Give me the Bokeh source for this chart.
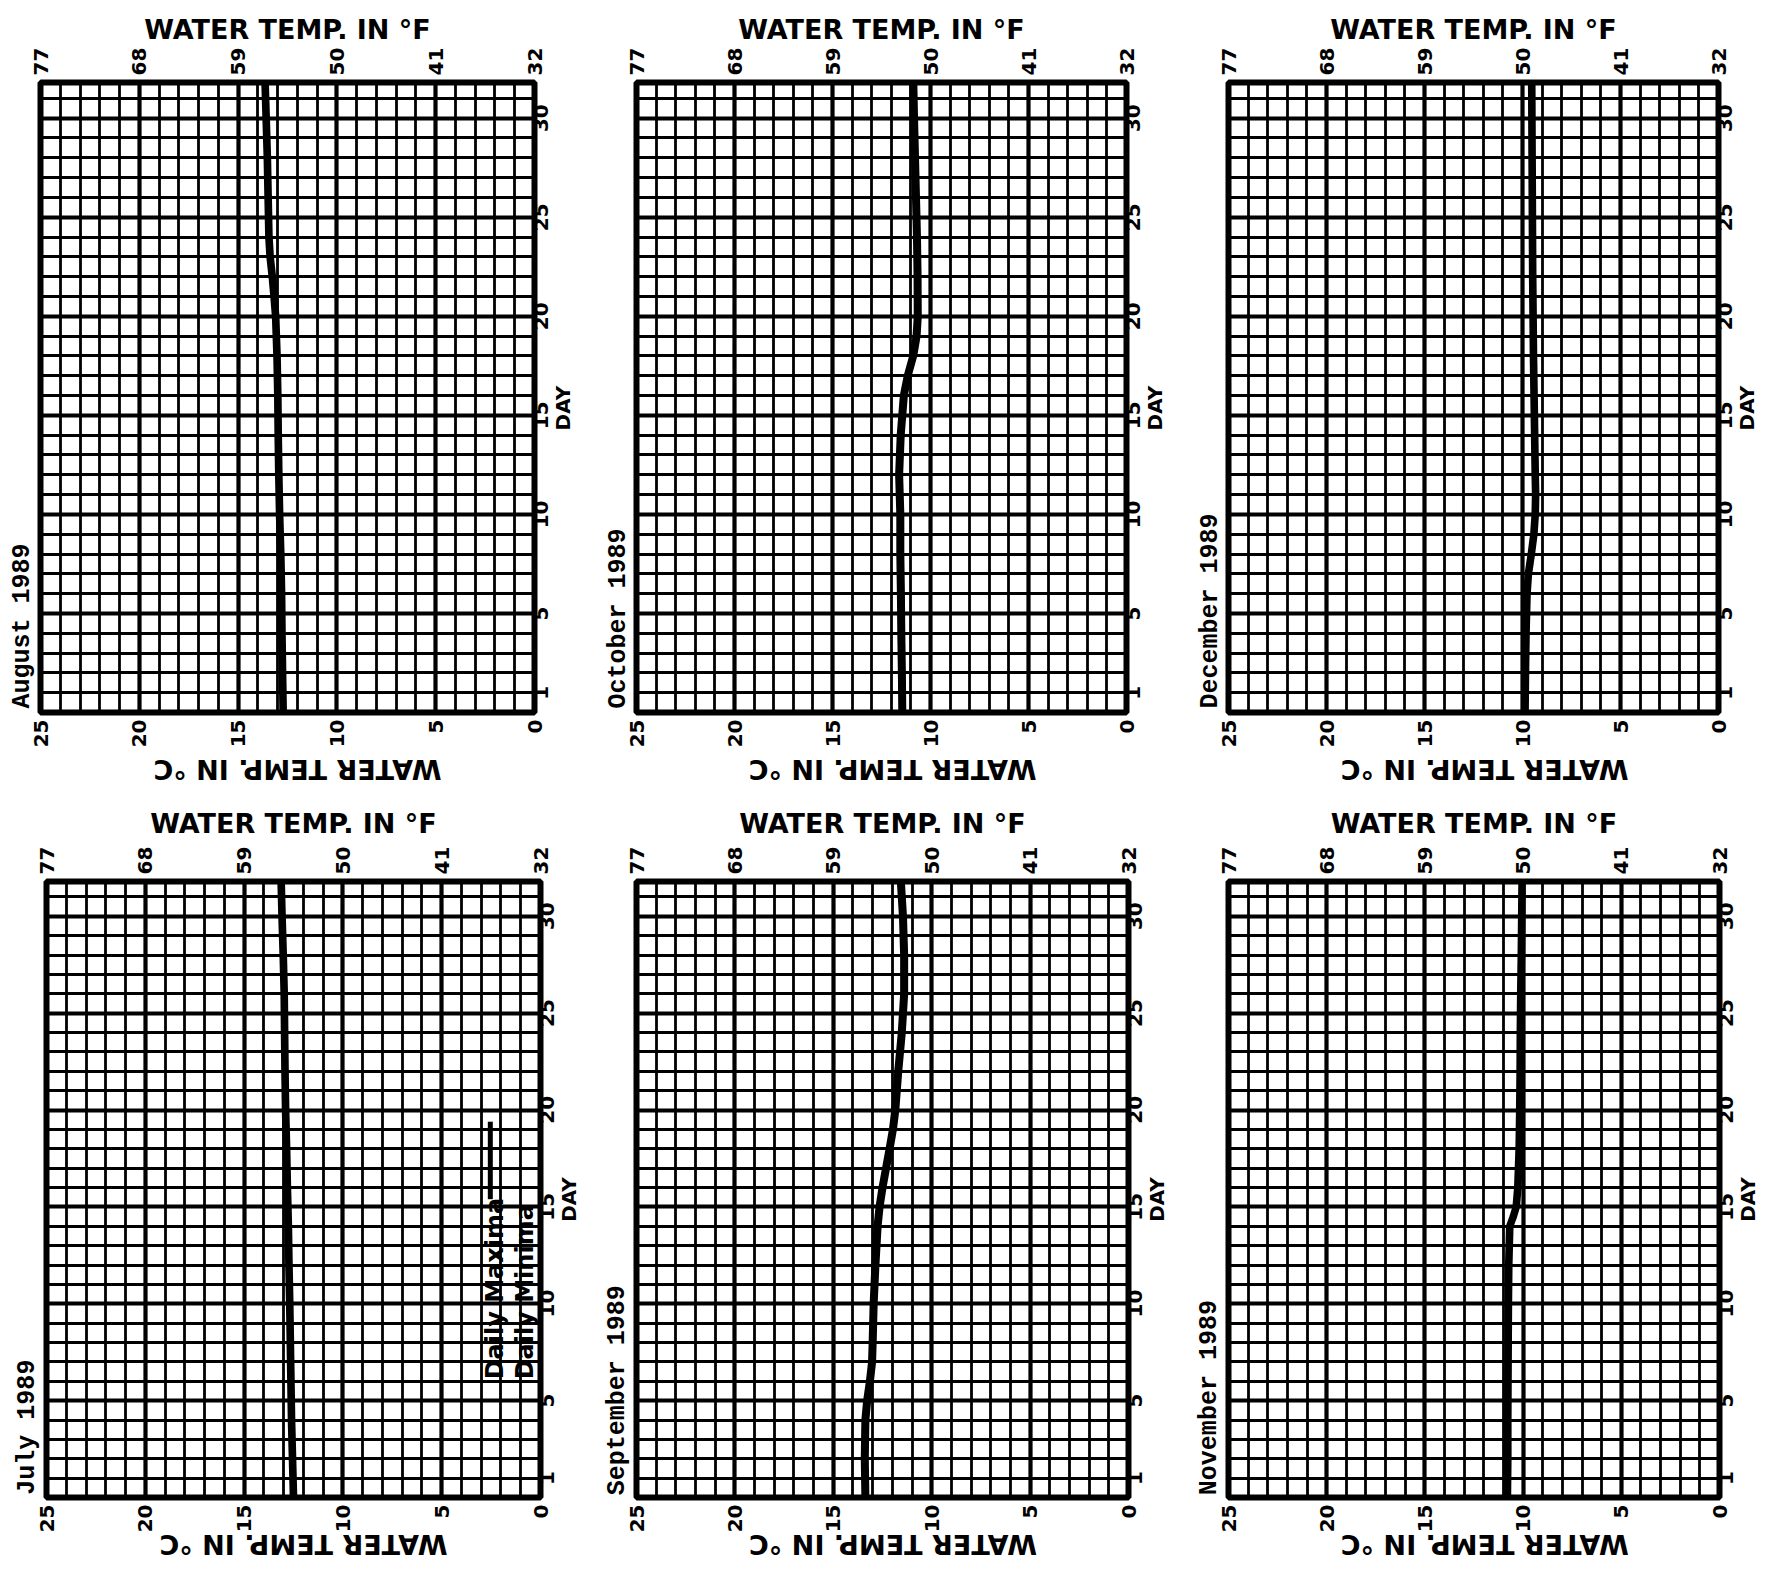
import math
from bokeh.plotting import figure
from bokeh.models import Range1d, LinearAxis, FixedTicker, Label
from bokeh.layouts import column, row
from bokeh.embed import file_html
from bokeh.resources import INLINE

# ---------------- data ----------------
c_ticks = [25, 20, 15, 10, 5, 0]
f_ticks = [77, 68, 59, 50, 41, 32]
day_ticks = [1, 5, 10, 15, 20, 25, 30]

jul_days = [0, 2, 4, 6, 8, 10, 12, 14, 16, 18, 20, 22, 24, 26, 28, 30, 32]
jul_max = [12.58, 12.63, 12.68, 12.71, 12.74, 12.77, 12.81, 12.84, 12.89, 12.93, 12.98, 13.01, 13.03, 13.05, 13.10, 13.16, 13.21]
jul_min = [12.42, 12.47, 12.52, 12.55, 12.58, 12.61, 12.65, 12.68, 12.73, 12.77, 12.82, 12.85, 12.87, 12.89, 12.94, 13.00, 13.05]

aug_days = [0, 2, 4, 6, 8, 10, 12, 14, 16, 18, 20, 21, 22, 23, 24, 26, 28, 30, 32]
aug_max = [12.80, 12.83, 12.86, 12.88, 12.92, 12.98, 13.02, 13.05, 13.07, 13.11, 13.18, 13.26, 13.35, 13.46, 13.52, 13.56, 13.60, 13.66, 13.72]
aug_min = [12.64, 12.67, 12.70, 12.72, 12.76, 12.82, 12.86, 12.89, 12.91, 12.95, 13.02, 13.10, 13.19, 13.30, 13.36, 13.40, 13.44, 13.50, 13.56]

sep_days = [0, 2, 4, 5, 6, 7, 8, 10, 12, 14, 15, 16, 17, 18, 19, 20, 22, 24, 26, 28, 30, 32]
sep_max = [13.46, 13.49, 13.46, 13.37, 13.23, 13.12, 13.09, 13.04, 12.95, 12.84, 12.74, 12.59, 12.41, 12.23, 12.06, 11.94, 11.79, 11.61, 11.49, 11.49, 11.55, 11.67]
sep_min = [13.28, 13.31, 13.28, 13.19, 13.05, 12.94, 12.91, 12.86, 12.77, 12.66, 12.56, 12.41, 12.23, 12.05, 11.88, 11.76, 11.61, 11.43, 11.31, 11.31, 11.37, 11.49]

oct_days = [0, 2, 4, 6, 8, 10, 12, 14, 15, 16, 17, 18, 19, 20, 22, 24, 26, 28, 30, 32]
oct_max = [11.53, 11.55, 11.58, 11.60, 11.63, 11.63, 11.69, 11.61, 11.53, 11.45, 11.25, 10.97, 10.80, 10.74, 10.75, 10.78, 10.83, 10.88, 10.93, 10.97]
oct_min = [11.35, 11.37, 11.40, 11.42, 11.45, 11.45, 11.51, 11.43, 11.35, 11.27, 11.07, 10.79, 10.62, 10.56, 10.57, 10.60, 10.65, 10.70, 10.75, 10.79]

nov_days = [0, 2, 4, 6, 8, 10, 12, 14, 14.5, 15, 16, 18, 20, 22, 24, 26, 28, 30, 32]
nov_max = [10.88, 10.86, 10.86, 10.85, 10.84, 10.83, 10.81, 10.76, 10.58, 10.43, 10.35, 10.28, 10.25, 10.23, 10.22, 10.20, 10.17, 10.15, 10.13]
nov_min = [10.72, 10.70, 10.70, 10.69, 10.68, 10.67, 10.65, 10.60, 10.42, 10.27, 10.19, 10.12, 10.09, 10.07, 10.06, 10.04, 10.01, 9.99, 9.97]

dec_days = [0, 2, 4, 6, 7, 8, 9, 10, 11, 12, 14, 16, 18, 20, 22, 24, 26, 28, 30, 32]
dec_max = [9.95, 9.93, 9.90, 9.85, 9.78, 9.63, 9.50, 9.43, 9.41, 9.43, 9.46, 9.49, 9.52, 9.54, 9.56, 9.57, 9.58, 9.59, 9.60, 9.61]
dec_min = [9.79, 9.77, 9.74, 9.69, 9.62, 9.47, 9.34, 9.27, 9.25, 9.27, 9.30, 9.33, 9.36, 9.38, 9.40, 9.41, 9.42, 9.43, 9.44, 9.45]

# ---------------- layout constants ----------------
FONT = "DejaVu Sans"
MONO = "Liberation Mono"
MONTH_SIZE = 25          # px, monospaced -> 0.6 em per character
TICK_SIZE = 20           # px, bold digits ~0.696 em wide
TITLE_SIZE = 27
TITLE_PX = 288           # rendered width of the bottom title
TITLE_SHIFT_PX = 10      # bottom title sits a little right of centre
DAY_PX = 46              # rendered width of "DAY"
COL_W = [600, 592, 586]
ROW_LEFT = [[40, 32, 32], [46, 34, 33]]
ROW_H = [804, 774]
ROW_TOP = [82, 74]
FRAME_H = [630, 626]
FRAME_W = 494
DAY_MAX = 31.8
C_TITLE_STANDOFF = [19, 9]
F_TITLE_STANDOFF = [0, 5]


def plain(ax):
    ax.axis_line_color = None
    ax.major_tick_line_color = None
    ax.minor_tick_line_color = None
    ax.major_tick_out = 0
    ax.major_tick_in = 0
    ax.minor_tick_out = 0
    ax.minor_tick_in = 0
    ax.major_label_text_color = "black"
    ax.major_label_text_font = FONT
    ax.major_label_text_font_style = "bold"


def panel(month, days, tmax, tmin, w, left, h, top_b, fh, c_standoff, f_standoff, legend=False):
    p = figure(width=w, height=h, x_range=Range1d(25, 0), y_range=Range1d(0, DAY_MAX),
               output_backend="svg", toolbar_location=None, x_axis_location="below",
               y_axis_location="right", min_border_left=left, min_border_top=top_b,
               min_border_right=w - left - FRAME_W, min_border_bottom=h - top_b - fh)
    p.background_fill_color = "white"
    p.border_fill_color = "white"
    p.outline_line_color = "black"
    p.outline_line_width = 6

    px_per_day = fh / DAY_MAX
    px_per_deg = FRAME_W / 25.0

    # grid: 1 degC / 1 day, heavier every 5
    p.xgrid.ticker = FixedTicker(ticks=[5, 10, 15, 20], minor_ticks=list(range(1, 25)))
    p.ygrid.ticker = FixedTicker(ticks=[5, 10, 15, 20, 25, 30], minor_ticks=list(range(1, 32)))
    for g in (p.xgrid, p.ygrid):
        g.grid_line_color = "black"
        g.grid_line_width = 4.2
        g.grid_line_alpha = 1.0
        g.minor_grid_line_color = "black"
        g.minor_grid_line_width = 2.8

    # top (degF) and bottom (degC) temperature axes
    p.extra_x_ranges = {"F": Range1d(77, 32)}
    top = LinearAxis(x_range_name="F", ticker=FixedTicker(ticks=f_ticks),
                     axis_label="WATER TEMP. IN °F")
    p.add_layout(top, "above")
    bottom = p.below[0]
    bottom.ticker = FixedTicker(ticks=c_ticks)
    for ax in (top, bottom):
        plain(ax)
        ax.major_label_orientation = math.pi / 2
        ax.major_label_text_font_size = f"{TICK_SIZE}px"
        ax.major_label_standoff = 7
    top.axis_label_text_font = FONT
    top.axis_label_text_font_style = "bold"
    top.axis_label_text_font_size = f"{TITLE_SIZE}px"
    top.axis_label_text_color = "black"
    top.axis_label_standoff = f_standoff

    # day axis: rotated labels start at their anchor, so shift anchors to centre them
    right = p.right[0]
    plain(right)
    d_pos = [d - (len(str(d)) * 0.696 * TICK_SIZE / 2) / px_per_day for d in day_ticks]
    right.ticker = FixedTicker(ticks=d_pos)
    right.major_label_overrides = {pos: str(d) for pos, d in zip(d_pos, day_ticks)}
    right.major_label_orientation = math.pi / 2
    right.major_label_text_font_size = f"{TICK_SIZE}px"
    right.major_label_standoff = 7

    # bottom title (printed upside down on the original sheet)
    c_pos = 12.5 + (TITLE_PX / 2 - TITLE_SHIFT_PX) / px_per_deg
    c_title = LinearAxis(ticker=FixedTicker(ticks=[c_pos]),
                         major_label_overrides={c_pos: "WATER TEMP. IN °C"})
    plain(c_title)
    c_title.major_label_orientation = math.pi
    c_title.major_label_text_font_size = f"{TITLE_SIZE}px"
    c_title.major_label_standoff = c_standoff
    p.add_layout(c_title, "below")

    # "DAY" beside the day tick labels
    day_pos = 15.4 - (DAY_PX / 2) / px_per_day
    day_title = LinearAxis(ticker=FixedTicker(ticks=[day_pos]),
                           major_label_overrides={day_pos: "DAY"})
    plain(day_title)
    day_title.major_label_orientation = math.pi / 2
    day_title.major_label_text_font_size = f"{TICK_SIZE}px"
    day_title.major_label_standoff = 5
    p.add_layout(day_title, "right")

    # month label on the left edge, starting just above the bottom of the sheet
    m_pos = (len(month) * 0.6 * MONTH_SIZE / 2 + 4) / px_per_day
    m_axis = LinearAxis(ticker=FixedTicker(ticks=[m_pos]),
                        major_label_overrides={m_pos: month})
    plain(m_axis)
    m_axis.major_label_text_font = MONO
    m_axis.major_label_text_font_size = f"{MONTH_SIZE}px"
    m_axis.major_label_orientation = "vertical"
    m_axis.major_label_standoff = 4
    p.add_layout(m_axis, "left")

    # data traces
    p.line(x=tmax, y=days, line_color="black", line_width=4.5)
    p.line(x=tmin, y=days, line_color="black", line_width=4.5)

    if legend:
        p.segment(x0=[2.54], y0=[15.4], x1=[2.54], y1=[19.4], line_color="black", line_width=5)
        p.add_layout(Label(x=2.3, y=6.1, text="Daily Maxima", angle=math.pi / 2,
                           text_align="left", text_baseline="middle", text_font=FONT,
                           text_font_style="bold", text_font_size="24px", text_color="black"))
        p.add_layout(Label(x=0.78, y=6.1, text="Daily Minima", angle=math.pi / 2,
                           text_align="left", text_baseline="middle", text_font=FONT,
                           text_font_style="bold", text_font_size="24px", text_color="black"))
    return p


def make_row(r, specs):
    figs = []
    for c, (month, days, tmax, tmin, legend) in enumerate(specs):
        figs.append(panel(month, days, tmax, tmin, COL_W[c], ROW_LEFT[r][c], ROW_H[r],
                          ROW_TOP[r], FRAME_H[r], C_TITLE_STANDOFF[r], F_TITLE_STANDOFF[r],
                          legend))
    return row(*figs)


row1 = make_row(0, [("August 1989", aug_days, aug_max, aug_min, False),
                    ("October 1989", oct_days, oct_max, oct_min, False),
                    ("December 1989", dec_days, dec_max, dec_min, False)])
row2 = make_row(1, [("July 1989", jul_days, jul_max, jul_min, True),
                    ("September 1989", sep_days, sep_max, sep_min, False),
                    ("November 1989", nov_days, nov_max, nov_min, False)])

layout = column(row1, row2)
open("out.html", "w").write(file_html(layout, INLINE))
